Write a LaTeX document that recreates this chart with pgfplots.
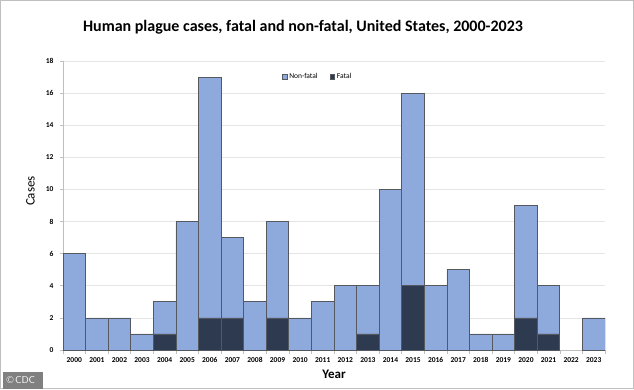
\documentclass[border=0pt]{standalone}
\usepackage{pgfplots}
\pgfplotsset{compat=1.18}
\usepackage{pgfplotstable}
\usepackage{fontspec}
\setmainfont{Carlito}
\definecolor{nonfatal}{HTML}{8EA9DB}
\definecolor{fatal}{HTML}{2E3A50}
\definecolor{edgec}{HTML}{55595F}
\definecolor{gridc}{HTML}{E4E4E4}
\definecolor{axc}{HTML}{BFBFBF}
\pgfplotstableread{
x fatal nonfatal
0 0 6
1 0 2
2 0 2
3 0 1
4 1 2
5 0 8
6 2 15
7 2 5
8 0 3
9 2 6
10 0 2
11 0 3
12 0 4
13 1 3
14 0 10
15 4 12
16 0 4
17 0 5
18 0 1
19 0 1
20 2 7
21 1 3
22 0 0
23 0 2
}\datatable
\begin{document}
\begin{tikzpicture}[x=1pt,y=1pt]
\useasboundingbox (0,0) rectangle (634,389);
\draw[color=black!25, line width=1pt] (0.5,0.5) rectangle (633.5,388.5);
\node[font=\bfseries\fontsize{16}{19}\selectfont] at (303,362) {Human plague cases, fatal and non-fatal, United States, 2000-2023};
\begin{axis}[
  at={(63pt,39pt)}, anchor=south west,
  scale only axis, width=542pt, height=289pt,
  ybar stacked, bar width=1,
  xmin=-0.5, xmax=23.5, ymin=0, ymax=18,
  xtick={0,...,23},
  xticklabels={2000,2001,2002,2003,2004,2005,2006,2007,2008,2009,2010,2011,2012,2013,2014,2015,2016,2017,2018,2019,2020,2021,2022,2023},
  major x tick style={draw=none},
  minor xtick={-0.5,0.5,...,23.5},
  minor tick length=4pt,
  minor x tick style={color=axc, line width=0.6pt},
  ytick={0,2,...,18},
  major tick length=3pt,
  tick align=outside,
  y tick style={color=axc, line width=0.6pt},
  axis lines*=left,
  axis line style={color=axc, line width=0.8pt, -},
  ymajorgrids, grid style={color=gridc, line width=0.6pt},
  /pgf/number format/assume math mode=true,
  ticklabel style={font=\bfseries\fontsize{7.5}{9}\selectfont},
  xticklabel style={yshift=-1pt},
  yticklabel style={xshift=-3pt},
  xlabel={\bfseries Year}, xlabel style={font=\fontsize{13}{15}\selectfont, at={(0.5,-0.085)}, anchor=center},
  ylabel={Cases}, ylabel style={font=\fontsize{13}{15}\selectfont, at={(-0.06,0.55)}, anchor=center},
  legend style={at={(0.47,0.945)}, anchor=center, draw=none, fill=none, legend columns=2,
    font=\fontsize{7.5}{9}\selectfont, /tikz/every even column/.append style={column sep=10pt}},
  legend image code/.code={\draw[#1] (0pt,-2.4pt) rectangle (4.8pt,2.4pt);},
]
\addlegendimage{fill=nonfatal, draw=edgec, line width=0.4pt}
\addlegendentry{Non-fatal}
\addlegendimage{fill=fatal, draw=edgec, line width=0.4pt}
\addlegendentry{Fatal}
\addplot[fill=fatal, draw=edgec, line width=0.7pt, forget plot] table[x=x, y=fatal] {\datatable};
\addplot[fill=nonfatal, draw=edgec, line width=0.7pt, forget plot] table[x=x, y=nonfatal] {\datatable};
\end{axis}
\fill[black!50] (3,0) rectangle (43,17);
\node[text=white, font=\sffamily\fontsize{10}{12}\selectfont, anchor=west] at (3,8.5) {\textcopyright\,CDC};
\end{tikzpicture}
\end{document}
